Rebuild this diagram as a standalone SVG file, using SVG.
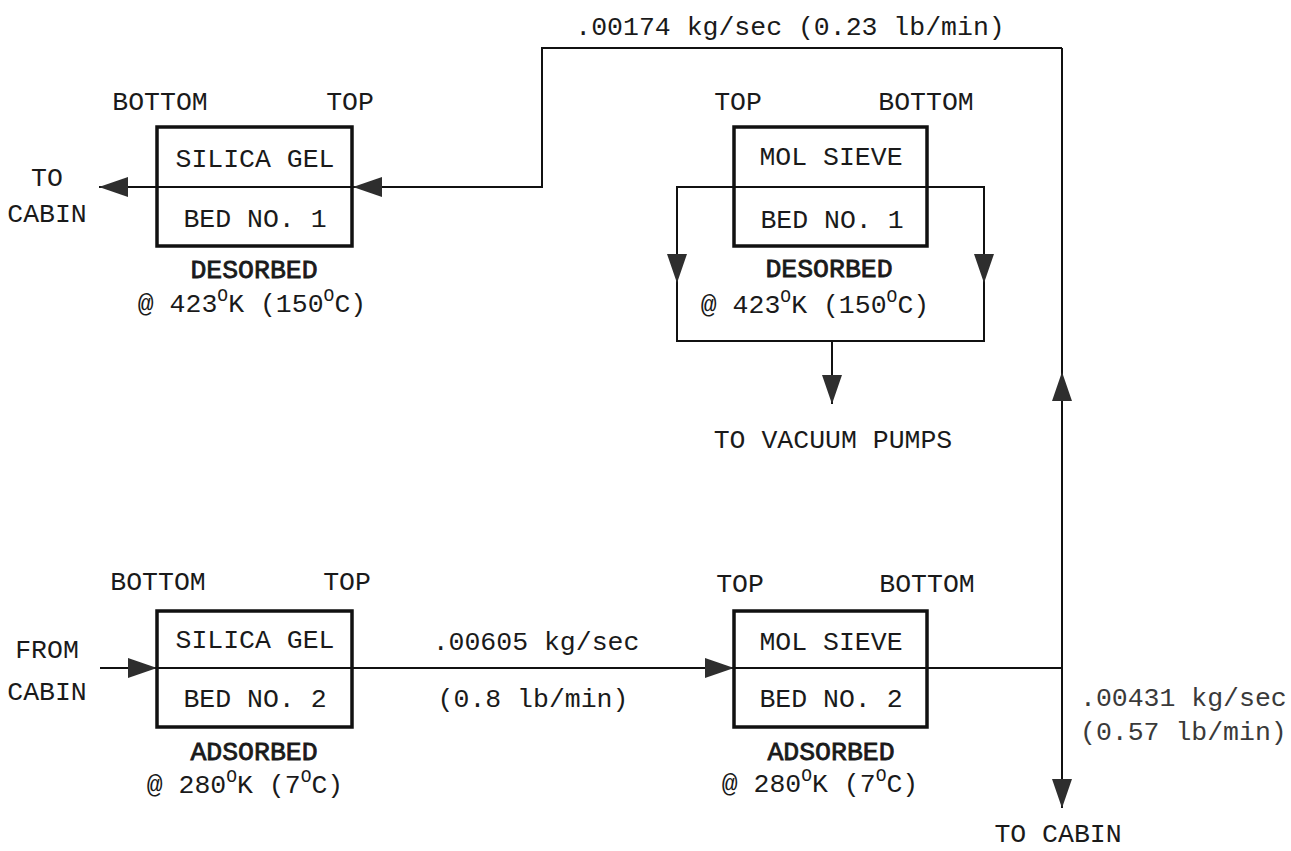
<svg xmlns="http://www.w3.org/2000/svg" width="1291" height="851" viewBox="0 0 1291 851">
<style>
text{font-family:"Liberation Mono","Courier New",monospace;font-size:26.5px;fill:#1a1a1a}
.c{text-anchor:middle}
.b{stroke:#1a1a1a;stroke-width:0.8}
.lt{fill:#3a3a3a}
.box{fill:#fff;stroke:#111;stroke-width:3.5}
.div{stroke:#111;stroke-width:2;fill:none}
.ln{fill:none;stroke:#111;stroke-width:2}
.sup{font-size:18px}
</style>
<defs>
<marker id="ah" markerUnits="userSpaceOnUse" markerWidth="32" markerHeight="22" refX="29" refY="10" orient="auto">
<path d="M0,0 L29,10 L0,20 Z" fill="#2e2e2e"/>
</marker>
</defs>
<g id="connectors">
<path class="ln" d="M157,187 H99" marker-end="url(#ah)"/>
<path class="ln" d="M1062,48 H542 V187 H353" marker-end="url(#ah)"/>
<path class="ln" d="M734,187 H677 V283" marker-end="url(#ah)"/>
<path class="ln" d="M677,283 V341 H984 V283"/>
<path class="ln" d="M927,187 H984 V283" marker-end="url(#ah)"/>
<path class="ln" d="M832,341 V404" marker-end="url(#ah)"/>
<path class="ln" d="M100,668 H157" marker-end="url(#ah)"/>
<path class="ln" d="M352,668 H734" marker-end="url(#ah)"/>
<path class="ln" d="M927,668 H1062"/>
<path class="ln" d="M1062,668 V372" marker-end="url(#ah)"/>
<path class="ln" d="M1062,372 V48"/>
<path class="ln" d="M1062,668 V808" marker-end="url(#ah)"/>
</g>
<g id="silica-gel-bed-1">
<text class="c" x="160" y="110">BOTTOM</text>
<text class="c" x="350" y="110">TOP</text>
<rect class="box" x="157" y="127" width="195" height="119"/>
<line class="div" x1="157" y1="187" x2="352" y2="187"/>
<text class="c" x="255" y="167">SILICA GEL</text>
<text class="c" x="255" y="227">BED NO. 1</text>
<text class="c b" x="254" y="278">DESORBED</text>
<text class="c" x="252" y="312">@ 423<tspan class="sup" dy="-11">O</tspan><tspan dy="11">K (150</tspan><tspan class="sup" dy="-11">O</tspan><tspan dy="11">C)</tspan></text>
</g>
<g id="to-cabin-top">
<text class="c" x="47" y="186">TO</text>
<text class="c" x="47" y="222">CABIN</text>
</g>
<g id="flow-top">
<text class="c" x="790" y="35">.00174 kg/sec (0.23 lb/min)</text>
</g>
<g id="mol-sieve-bed-1">
<text class="c" x="738" y="110">TOP</text>
<text class="c" x="926" y="110">BOTTOM</text>
<rect class="box" x="734" y="127" width="193" height="119"/>
<line class="div" x1="734" y1="187" x2="927" y2="187"/>
<text class="c" x="831" y="165">MOL SIEVE</text>
<text class="c" x="832" y="228">BED NO. 1</text>
<text class="c b" x="829" y="277">DESORBED</text>
<text class="c" x="815" y="313">@ 423<tspan class="sup" dy="-11">O</tspan><tspan dy="11">K (150</tspan><tspan class="sup" dy="-11">O</tspan><tspan dy="11">C)</tspan></text>
</g>
<g id="vacuum">
<text class="c" x="833" y="448">TO VACUUM PUMPS</text>
</g>
<g id="from-cabin">
<text class="c" x="47" y="658">FROM</text>
<text class="c" x="47" y="700">CABIN</text>
</g>
<g id="silica-gel-bed-2">
<text class="c" x="158" y="590">BOTTOM</text>
<text class="c" x="347" y="590">TOP</text>
<rect class="box" x="157" y="611" width="195" height="116"/>
<line class="div" x1="157" y1="668" x2="352" y2="668"/>
<text class="c" x="255" y="648">SILICA GEL</text>
<text class="c" x="255" y="707">BED NO. 2</text>
<text class="c b" x="254" y="760">ADSORBED</text>
<text class="c" x="245" y="793">@ 280<tspan class="sup" dy="-11">O</tspan><tspan dy="11">K (7</tspan><tspan class="sup" dy="-11">O</tspan><tspan dy="11">C)</tspan></text>
</g>
<g id="flow-mid">
<text class="c" x="536" y="650">.00605 kg/sec</text>
<text class="c" x="533" y="707">(0.8 lb/min)</text>
</g>
<g id="mol-sieve-bed-2">
<text class="c" x="740" y="592">TOP</text>
<text class="c" x="927" y="592">BOTTOM</text>
<rect class="box" x="734" y="611" width="193" height="116"/>
<line class="div" x1="734" y1="668" x2="927" y2="668"/>
<text class="c" x="831" y="650">MOL SIEVE</text>
<text class="c" x="831" y="707">BED NO. 2</text>
<text class="c b" x="831" y="760">ADSORBED</text>
<text class="c" x="820" y="792">@ 280<tspan class="sup" dy="-11">O</tspan><tspan dy="11">K (7</tspan><tspan class="sup" dy="-11">O</tspan><tspan dy="11">C)</tspan></text>
</g>
<g id="flow-right">
<text class="lt" x="1080" y="706">.00431 kg/sec</text>
<text class="lt" x="1080" y="740">(0.57 lb/min)</text>
</g>
<g id="to-cabin-bottom">
<text class="c" x="1058" y="842">TO CABIN</text>
</g>
</svg>
